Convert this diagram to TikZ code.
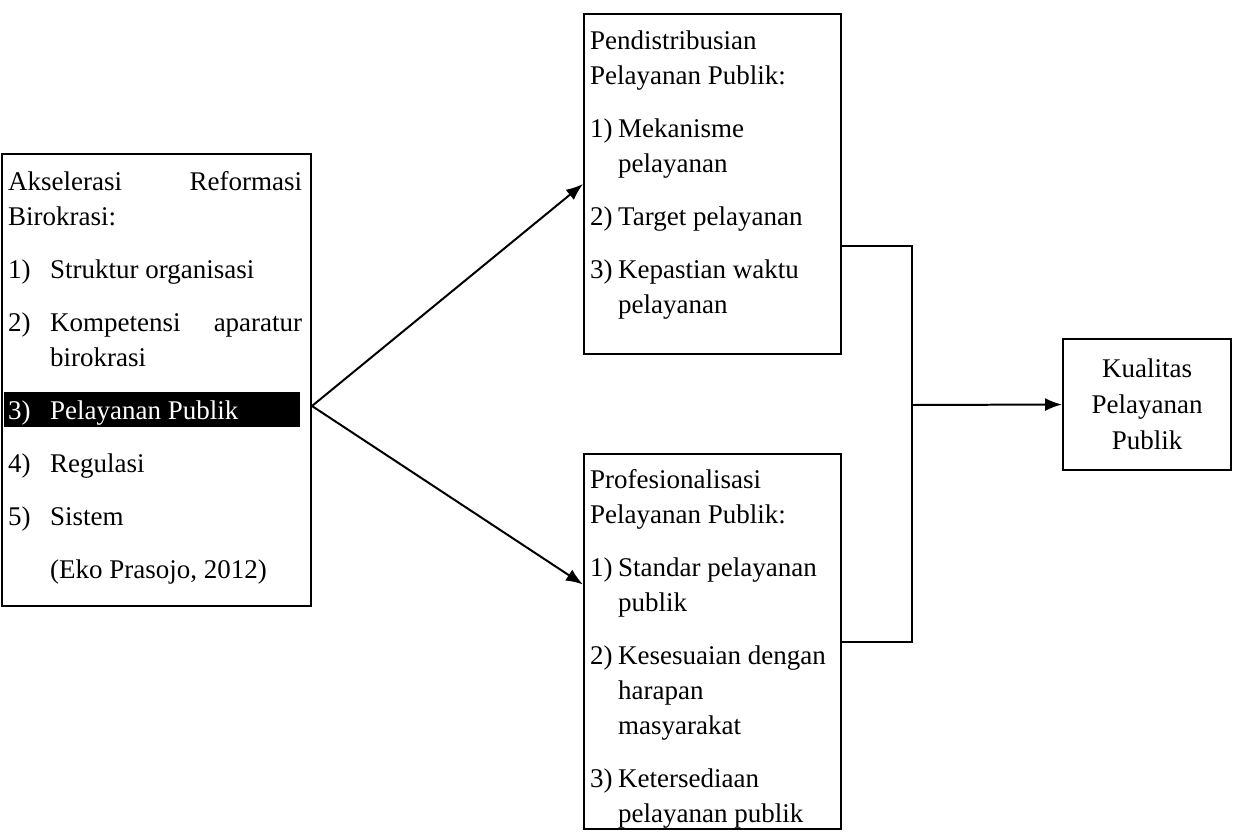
\documentclass[tikz,border=0pt]{standalone}
\usepackage{fontspec}
\setmainfont{Liberation Serif}
\usetikzlibrary{arrows.meta,positioning}

\newcommand{\butir}[2]{\par\vspace{18pt}\hangindent=#1\hangafter=1\noindent\makebox[#1][l]{#2}}

\begin{document}
\begin{tikzpicture}[x=1pt, y=-1pt,
  >={Latex[length=17pt, width=13pt]},
  frame/.style={draw, line width=0.7mm, inner sep=0pt, anchor=north west},
  isi/.style={anchor=north west, inner sep=0pt, font=\fontsize{27}{35}\selectfont},
  link/.style={line width=0.7mm}]
  \useasboundingbox (0, 0) rectangle (1233, 838);

  % kotak
  \node (akselerasi) [frame, minimum width=309pt, minimum height=452pt] at (1, 153) {};
  \node (distribusi) [frame, minimum width=257pt, minimum height=340pt] at (583, 13) {};
  \node (profesional) [frame, minimum width=257pt, minimum height=375pt] at (583, 453) {};
  \node (kualitas) [draw, line width=0.7mm, minimum width=168pt, minimum height=131pt,
    align=center, font=\fontsize{27}{36}\selectfont] at (1147, 404.5) {Kualitas\\Pelayanan\\Publik};

  % isi kotak
  \node (akselerasiisi) [isi, text width=294pt, align=justify] at (8, 171)
  {Akselerasi Reformasi\linebreak Birokrasi:
    \butir{42pt}{1)}Struktur organisasi
    \butir{42pt}{2)}Kompetensi aparatur\linebreak birokrasi
    \par\vspace{18pt}\noindent\smash{\rlap{\hspace*{-4pt}\rule[-8pt]{296pt}{35pt}}}%
    {\color{white}\makebox[42pt][l]{3)}Pelayanan Publik}
    \butir{42pt}{4)}Regulasi
    \butir{42pt}{5)}Sistem
    \par\vspace{18pt}\noindent\hspace*{42pt}(Eko Prasojo, 2012)\par};
  \node (distribusiisi) [isi, text width=246pt, align=flush left] at (590, 31)
  {Pendistribusian\newline Pelayanan Publik:
    \butir{28pt}{1)}Mekanisme\newline pelayanan
    \butir{28pt}{2)}Target pelayanan
    \butir{28pt}{3)}Kepastian waktu\newline pelayanan\par};
  \node (profesionalisi) [isi, text width=246pt, align=flush left] at (590, 469)
  {Profesionalisasi\newline Pelayanan Publik:
    \butir{28pt}{1)}Standar pelayanan\newline publik
    \butir{28pt}{2)}Kesesuaian dengan\newline harapan\newline masyarakat
    \butir{28pt}{3)}Ketersediaan\newline pelayanan publik\par};

  % panah
  \coordinate (fork) at ([yshift=-26pt]akselerasi.east);
  \coordinate (junction) at (912, 405);
  \draw [link, ->] (fork) -- (distribusi.west);
  \draw [link, ->] (fork) -- ([yshift=57pt]profesional.west);
  \draw [link] ([yshift=-62pt]distribusi.east) -| (junction) |- (profesional.east);
  \draw [link, ->] (junction) -- (kualitas.west);
\end{tikzpicture}
\end{document}
